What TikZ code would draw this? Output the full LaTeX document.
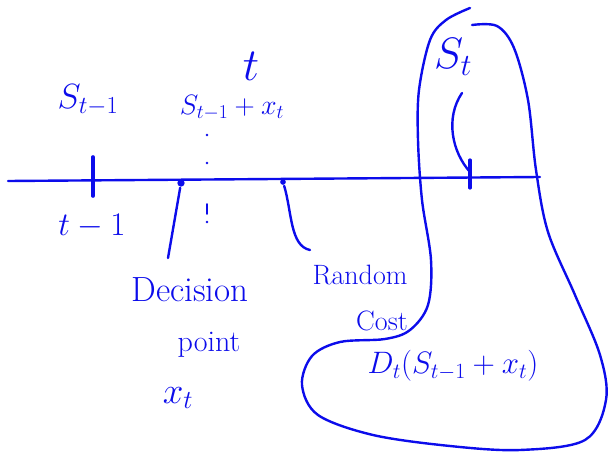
\RequirePackage{fix-cm}
\documentclass[tikz,border=0pt]{standalone}
\usepackage{amsmath,amssymb}
\usepackage{tikz}
\usepackage{xcolor}
\definecolor{ink}{RGB}{12,12,235}
\newcommand{\fs}[1]{\fontsize{#1}{#1}\selectfont}
\begin{document}
\begin{tikzpicture}[x=1pt,y=-1pt,line width=2.4pt,line cap=round,draw=ink,
  lbl/.style={inner sep=0pt,text=ink},
  dot/.style={circle,fill=ink,inner sep=2.6pt}]
  \useasboundingbox (0,0) rectangle (610,452);
  % time axis
  \coordinate (axl) at (8,181); \coordinate (axr) at (540,177);
  \draw (axl) -- (axr);
  \draw[line width=3.6pt] (93,157) -- (93,196); \draw[line width=3.2pt] (470,160) -- (470,188);
  % decision point and random cost
  \node[dot] (dec) at (181,183) {}; \node[dot,inner sep=2pt] (rnd) at (283,182) {};
  \coordinate (decend) at (168,258); \coordinate (rndend) at (310,250);
  \draw (dec) -- (decend);
  \draw (rnd) .. controls (292,212) and (290,246) .. (rndend);
  \foreach \y in {135,163,222} \fill[ink] (207,\y) circle (1.4pt);
  \draw[line width=1.6pt] (207,204) -- (207,214);
  % labels
  \node[lbl,font=\fs{35}] (s1) at (88,100) {$S_{t-1}$};
  \node[lbl,font=\fs{46}] (tt) at (251,66) {$t$};
  \node[lbl,font=\fs{28}] (sx) at (232,108) {$S_{t-1}+x_t$};
  \node[lbl,font=\fs{33}] (t1) at (92,226) {$t-1$};
  \node[lbl,font=\fs{35}] (decl) at (190,290) {Decision};
  \node[lbl,font=\fs{30}] (ptl) at (209,345) {point};
  \node[lbl,font=\fs{37}] (xt) at (178,398) {$x_t$};
  \node[lbl,font=\fs{28}] (rnl) at (360,275) {Random};
  \node[lbl,font=\fs{28}] (csl) at (382,321) {Cost};
  \node[lbl,font=\fs{44}] (st) at (453,57) {$S_t$};
  \node[lbl,font=\fs{31}] (dt) at (453,366) {$D_t(S_{t-1}+x_t)$};
  % S_t arrives at t
  \coordinate (arrs) at (462,93);
  \draw (arrs) .. controls (445,118) and (452,152) .. (470,172);
  % region
  \draw plot[smooth,tension=0.55] coordinates {(470,8) (446,20) (430,40) (419,90) (418,140) (422,200) (431,260) (428,305) (410,330) (385,339) (340,342) (312,356) (302,385) (318,415) (373,435) (450,446) (520,450) (585,440) (606,400) (600,355) (575,295) (548,232) (536,170) (528,100) (514,48) (497,26) (472,25)};
\end{tikzpicture}
\end{document}
